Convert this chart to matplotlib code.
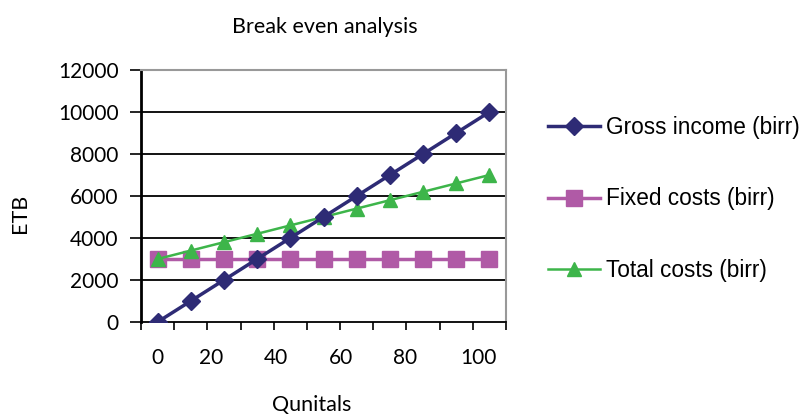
import matplotlib
matplotlib.use("Agg")
import matplotlib.pyplot as plt

# data
categories = list(range(11))
gross_income = [0, 1000, 2000, 3000, 4000, 5000, 6000, 7000, 8000, 9000, 10000]
fixed_costs = [3000] * 11
total_costs = [3000, 3400, 3800, 4200, 4600, 5000, 5400, 5800, 6200, 6600, 7000]
xtick_pos = [0, 1.6, 3.57, 5.54, 7.47, 9.67]
xtick_labels = ['0', '20', '40', '60', '80', '100']
yticks = [0, 2000, 4000, 6000, 8000, 10000, 12000]

tick_font = 'Lato'
legend_font = 'Liberation Sans'

fig = plt.figure(figsize=(8.05, 4.17), dpi=100)
ax = fig.add_axes([141/805, 1-322/417, 365/805, 252/417])

ax.plot(categories, gross_income, color='#2E2B75', lw=2.5, marker='D', ms=9,
        label='Gross income (birr)', zorder=5)
ax.plot(categories, fixed_costs, color='#B05AA6', lw=2.5, marker='s', ms=11,
        label='Fixed costs (birr)', zorder=3)
ax.plot(categories, total_costs, color='#3DB54A', lw=1.8, marker='^', ms=10,
        label='Total costs (birr)', zorder=4)

ax.set_xlim(-0.5, 10.5)
ax.set_ylim(0, 12000)
ax.set_yticks(yticks)
ax.set_yticklabels([str(v) for v in yticks], fontsize=15, family=tick_font)
for y in yticks[1:-1]:
    ax.axhline(y, color='black', lw=1.3, zorder=1)

ax.set_xticks([i - 0.5 for i in range(12)])
ax.set_xticklabels([])
ax.set_xticks(xtick_pos, minor=True)
ax.set_xticklabels(xtick_labels, minor=True, fontsize=15, family=tick_font)
ax.tick_params(axis='x', which='major', length=6, width=1.2, direction='out')
ax.tick_params(axis='x', which='minor', length=0, pad=19)
ax.tick_params(axis='y', length=8, width=1.2, direction='out', pad=8)

ax.spines['left'].set_linewidth(2)
ax.spines['bottom'].set_linewidth(1.3)
ax.spines['top'].set_color('#999999')
ax.spines['right'].set_color('#999999')
ax.spines['top'].set_linewidth(1.5)
ax.spines['right'].set_linewidth(1.5)

fig.text(325/805, 1-27/417, 'Break even analysis', ha='center', va='center',
         fontsize=15.5, family=tick_font)
fig.text(20/805, 1-213/417, 'ETB', ha='center', va='center', rotation=90,
         fontsize=15.5, family=tick_font)
fig.text(312/805, 1-405/417, 'Qunitals', ha='center', va='center',
         fontsize=15.5, family=tick_font)

fig.legend(loc='center left', bbox_to_anchor=(548/805, 1-199/417), frameon=False,
           prop={'family': legend_font, 'size': 16.3}, handlelength=2.3,
           handletextpad=0.25, labelspacing=2.15, borderpad=0, borderaxespad=0)

fig.savefig('out.png', dpi=100)
